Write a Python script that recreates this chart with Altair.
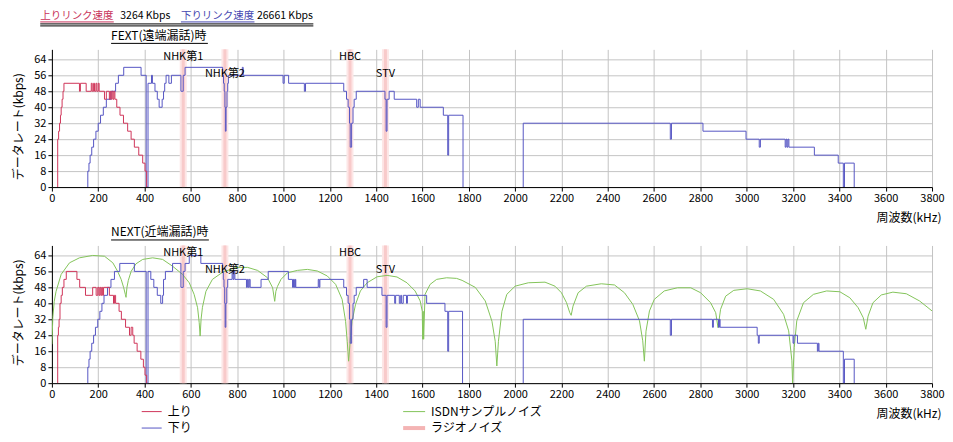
import altair as alt
import pandas as pd

FONT = "Noto Sans CJK JP"
W, H = 882, 138
YMAX = 69
RED = "#d0365a"
BLUE = "#5656c4"
GREEN = "#84c45a"

freq_ticks = list(range(0, 3801, 200))
rate_ticks = list(range(0, 65, 8))

radio_f = [567, 747, 1287, 1440]
radio_names = ["NHK第1", "NHK第2", "HBC", "STV"]
radio_label_v = [65, 56.5, 65, 56.5]

# ---- FEXT upstream ----
fext_up_f = [25, 25, 29, 33, 37, 40, 44, 48, 52, 119, 123, 148, 170, 174, 180, 184, 190, 194, 200, 204,
             227, 235, 248, 252, 256, 260, 264, 268, 272, 280, 294, 309, 327, 342, 356, 375, 392, 402, 409]
fext_up_v = [0, 24, 28, 32, 36, 40, 44, 48, 52, 48, 52, 48, 52, 48, 52, 48, 52, 48, 52, 48,
             44, 48, 44, 48, 44, 48, 44, 48, 44, 40, 36, 32, 28, 24, 20, 16, 12, 8, 0]

# ---- FEXT downstream ----
fext_dn1_f = [155, 155, 160, 165, 172, 180, 190, 200, 210, 222,
              235, 255, 275, 287, 310, 385, 407, 415, 430, 434,
              445, 455, 463, 476, 482, 487, 493, 505, 516, 557,
              567, 575, 737, 741, 744, 747, 749, 752, 756, 759,
              762, 822, 826, 998, 1003, 1022, 1090, 1095, 1260, 1272,
              1279, 1285, 1288, 1294, 1300, 1305, 1314, 1438, 1443, 1447,
              1456, 1478, 1575, 1582, 1590, 1690, 1709, 1713, 1775]
fext_dn1_v = [0, 8, 12, 16, 20, 24, 28, 32, 36, 40,
              44, 48, 52, 56, 60, 56, 0, 52, 56, 52,
              48, 44, 40, 44, 48, 52, 56, 52, 56, 48,
              56, 60, 56, 52, 48, 40, 28, 40, 48, 52,
              56, 60, 56, 52, 56, 52, 48, 52, 48, 44,
              40, 32, 20, 32, 40, 44, 48, 44, 28, 44,
              48, 44, 40, 44, 40, 36, 16, 36, 0]
fext_dn2_f = [2035, 2035, 2670, 2675, 2811, 2997, 3054, 3059, 3166, 3170, 3174, 3178, 3182, 3292, 3395, 3417, 3422, 3464]
fext_dn2_v = [0, 32, 24, 32, 28, 24, 20, 24, 20, 24, 20, 24, 20, 16, 12, 0, 12, 0]

# ---- NEXT upstream ----
next_up_f = [25, 25, 28, 31, 35, 40, 45, 52, 62, 108,
             120, 145, 176, 191, 198, 203, 207, 211, 215, 219,
             223, 248, 266, 270, 275, 290, 300, 318, 335, 342,
             349, 355, 368, 384, 395, 402, 409]
next_up_v = [0, 24, 28, 32, 40, 44, 48, 52, 56, 52,
             48, 44, 48, 44, 48, 44, 48, 44, 48, 44,
             48, 44, 40, 44, 40, 36, 32, 28, 24, 28,
             24, 20, 16, 12, 8, 4, 0]

# ---- NEXT downstream ----
next_dn1_f = [155, 155, 160, 165, 172, 180, 188, 198, 207, 216,
              225, 240, 255, 270, 293, 356, 407, 415, 427, 440,
              455, 470, 478, 482, 490, 521, 557, 567, 575, 593,
              643, 737, 740, 743, 746, 748, 751, 755, 759, 778,
              782, 786, 790, 840, 844, 848, 852, 856, 903, 934,
              1021, 1039, 1043, 1047, 1051, 1053, 1150, 1154, 1157, 1260,
              1272, 1279, 1285, 1288, 1294, 1300, 1305, 1314, 1346, 1361,
              1425, 1443, 1447, 1480, 1484, 1500, 1506, 1510, 1517, 1531,
              1535, 1618, 1697, 1709, 1713, 1773]
next_dn1_v = [0, 8, 12, 16, 20, 24, 28, 32, 36, 40,
              44, 48, 52, 56, 60, 56, 0, 56, 52, 48,
              44, 40, 44, 52, 56, 60, 48, 56, 60, 64,
              60, 56, 52, 48, 40, 28, 40, 48, 52, 56,
              52, 56, 52, 48, 52, 48, 52, 48, 52, 56,
              52, 48, 52, 48, 52, 48, 52, 48, 52, 48,
              44, 40, 32, 20, 32, 40, 44, 48, 52, 48,
              44, 28, 44, 40, 44, 40, 44, 40, 44, 40,
              44, 40, 36, 16, 36, 0]
next_dn2_f = [2035, 2035, 2670, 2675, 2852, 2856, 2878, 2882, 2885, 3045, 3050, 3054, 3200, 3204, 3219, 3305, 3309, 3312, 3417, 3422, 3464]
next_dn2_v = [0, 32, 24, 32, 28, 32, 28, 32, 28, 24, 20, 24, 20, 24, 20, 16, 20, 16, 0, 12, 0]

# ---- ISDN sample noise (NEXT) ----
isdn_f = [0, 4, 10, 18, 40, 76, 119, 176, 227, 263, 284, 299, 310, 317, 320,
          324, 330, 342, 363, 392, 435, 478, 521, 564, 593, 614, 629, 636, 640,
          644, 650, 665, 693, 736, 794, 845, 888, 931, 953, 962,
          967, 974, 989, 1017, 1060, 1103, 1146, 1189, 1225, 1253, 1268, 1275, 1281,
          1289, 1296, 1311, 1332, 1361, 1404, 1447, 1490, 1533, 1568, 1590, 1599, 1601, 1603, 1605,
          1611, 1633, 1661, 1704, 1747, 1771, 1828, 1871, 1900, 1914, 1921,
          1928, 1943, 1964, 2000, 2057, 2129, 2172, 2200, 2222, 2236, 2242,
          2250, 2272, 2308, 2372, 2429, 2472, 2508, 2537, 2551, 2558,
          2565, 2580, 2601, 2644, 2701, 2758, 2801, 2844, 2866, 2876,
          2887, 2909, 2944, 3002, 3059, 3116, 3159, 3181, 3195, 3198,
          3205, 3216, 3245, 3288, 3345, 3402, 3445, 3481, 3503, 3514,
          3524, 3545, 3581, 3631, 3689, 3746, 3800]
isdn_v = [19.5, 33, 41, 46, 54.5, 60.3, 62.8, 64, 63.6, 60.3, 56, 52, 47.8, 44.5, 43,
          48, 51.5, 56, 59.8, 62, 62.8, 62, 58.6, 54.5, 50.3, 44.5, 37.8, 30.3, 23.6,
          32, 38, 46, 52, 55.5, 58, 58, 56.5, 52.8, 47.8, 41,
          46, 48.5, 52, 55.3, 56.5, 57, 56.2, 53.7, 49.5, 42, 31, 21, 11,
          22.8, 31, 39.5, 46.2, 50.3, 53.3, 54, 53.2, 50.3, 46.2, 41.2, 36, 22, 36, 22,
          44.5, 49.5, 52, 52.8, 52.5, 51.5, 48, 41.2, 31, 21, 8.6,
          21, 36, 44.5, 48.6, 50.3, 50.6, 48.6, 45.3, 40.3, 35.3, 34,
          38.6, 45.3, 48.6, 49.8, 49.2, 45.3, 39.5, 31.2, 21.2, 11,
          26, 36.2, 42, 46.2, 47.8, 47.8, 45.3, 40.3, 35.3, 27.8,
          37, 43.6, 46.5, 47.3, 46.2, 42, 34.5, 26.2, 11.2, 0,
          17.8, 31.2, 40.3, 44.5, 46.2, 45.8, 42.8, 37.8, 32.8, 27,
          33.6, 40.3, 44.2, 45.6, 44.8, 41.2, 36.2]


def steps(parts):
    rows = []
    k = 0
    for s, (fs, vs) in enumerate(parts):
        for f, v in zip(fs, vs):
            rows.append({"f": f, "v": v, "seg": s, "i": k})
            k += 1
    return pd.DataFrame(rows)


one = pd.DataFrame({"a": [0]})
xscale = alt.Scale(domain=[0, 3800], nice=False, zero=False)
yscale = alt.Scale(domain=[0, YMAX], nice=False, zero=True)


def ptext(s, x, y, color="black", size=12, baseline="middle"):
    return alt.Chart(one).mark_text(text=s, font=FONT, fontSize=size, color=color, align="left",
                                    baseline=baseline).encode(x=alt.value(x), y=alt.value(y))


def prule(x1, x2, y, color="black", width=1):
    return alt.Chart(one).mark_rule(color=color, strokeWidth=width).encode(
        x=alt.value(x1), x2=alt.value(x2), y=alt.value(y))


def panel(up, down, isdn, ytitle_y, extras):
    xaxis = alt.Axis(values=freq_ticks, format="d", title="周波数(kHz)", grid=True, gridColor="#c4c4c4",
                     gridWidth=1, domainColor="black", tickColor="black", tickSize=4, labelPadding=1,
                     labelFont=FONT, labelFontSize=11, labelColor="black", labelFlush=False,
                     labelOverlap=False, titleFont=FONT, titleFontSize=12, titleFontWeight="normal",
                     titleColor="black", titleX=891, titleY=30, titleAlign="right",
                     titleBaseline="middle", titleAngle=0)
    yaxis = alt.Axis(values=rate_ticks, format="d", title="データレート(kbps)", grid=True, gridColor="#c4c4c4",
                     gridWidth=1, domainColor="black", tickColor="black", tickSize=4, labelPadding=2,
                     labelFont=FONT, labelFontSize=11, labelColor="black", labelFlush=False,
                     titleFont=FONT, titleFontSize=12, titleFontWeight="normal", titleColor="black",
                     titleX=-33, titleY=ytitle_y, titleAngle=-90, titleAlign="center",
                     titleBaseline="middle")
    X = alt.X("f:Q", scale=xscale, axis=xaxis)
    Y = alt.Y("v:Q", scale=yscale, axis=yaxis)
    bands = pd.DataFrame({"f": radio_f})
    layers = [
        alt.Chart(bands).mark_rule(color="#fde6e6", strokeWidth=7).encode(x=X, y=alt.value(0), y2=alt.value(H)),
        alt.Chart(bands).mark_rule(color="#f8caca", strokeWidth=3).encode(x=X, y=alt.value(0), y2=alt.value(H)),
    ]
    if isdn is not None:
        layers.append(alt.Chart(isdn).mark_line(color=GREEN, strokeWidth=1, clip=True).encode(
            x=X, y=Y, order="i:Q"))
    layers.append(alt.Chart(down).mark_line(interpolate="step-after", color=BLUE, strokeWidth=1, clip=True).encode(
        x=X, y=Y, detail="seg:N", order="i:Q"))
    layers.append(alt.Chart(up).mark_line(interpolate="step-after", color=RED, strokeWidth=1, clip=True).encode(
        x=X, y=Y, detail="seg:N", order="i:Q"))
    labels = pd.DataFrame({"f": radio_f, "v": radio_label_v, "t": radio_names})
    layers.append(alt.Chart(labels).mark_text(font=FONT, fontSize=11, color="black").encode(
        x=X, y=Y, text="t:N"))
    return alt.layer(*layers, *extras).properties(width=W, height=H)


fext_up = steps([(fext_up_f, fext_up_v)])
fext_dn = steps([(fext_dn1_f, fext_dn1_v), (fext_dn2_f, fext_dn2_v)])
next_up = steps([(next_up_f, next_up_v)])
next_dn = steps([(next_dn1_f, next_dn1_v), (next_dn2_f, next_dn2_v)])
isdn = pd.DataFrame({"f": isdn_f, "v": isdn_v, "i": range(len(isdn_f))})

top_extras = [
    prule(-42.7, -41.7, -40, color="white"),
    ptext("上りリンク速度", -11.7, -38.5, color="#c8325a", size=10.5, baseline="top"),
    prule(-11.7, 62, -27.5, color="#c8325a"),
    ptext("3264 Kbps", 68.5, -38.5, size=10.5, baseline="top"),
    ptext("下りリンク速度", 129.3, -38.5, color="#4646b0", size=10.5, baseline="top"),
    prule(129.3, 203, -27.5, color="#4646b0"),
    ptext("26661 Kbps", 205.5, -38.5, size=10.5, baseline="top"),
    prule(-11.7, 262, -25.5),
    prule(-11.7, 262, -23.5),
    ptext("FEXT(遠端漏話)時", 59.3, -13, size=12),
    prule(59.3, 156.3, -6),
]
bottom_extras = [
    ptext("NEXT(近端漏話)時", 59.3, -13, size=12),
    prule(59.3, 157.3, -5.5),
    prule(90, 110, 166.5, color=RED),
    ptext("上り", 116, 166.5, size=12),
    prule(90, 110, 183, color=BLUE),
    ptext("下り", 116, 183, size=12),
    prule(352, 374, 166.5, color=GREEN),
    ptext("ISDNサンプルノイズ", 380, 166.5, size=12),
    prule(352, 374, 183, color="#f4b4b4", width=4),
    ptext("ラジオノイズ", 380, 183, size=12),
]

top = panel(fext_up, fext_dn, None, 77, top_extras)
bottom = panel(next_up, next_dn, isdn, 67, bottom_extras)

chart = alt.vconcat(top, bottom, spacing=58.5, bounds="flush", padding=0).configure_view(stroke=None)
chart.save("out.html", embed_options={"renderer": "svg", "actions": False})
